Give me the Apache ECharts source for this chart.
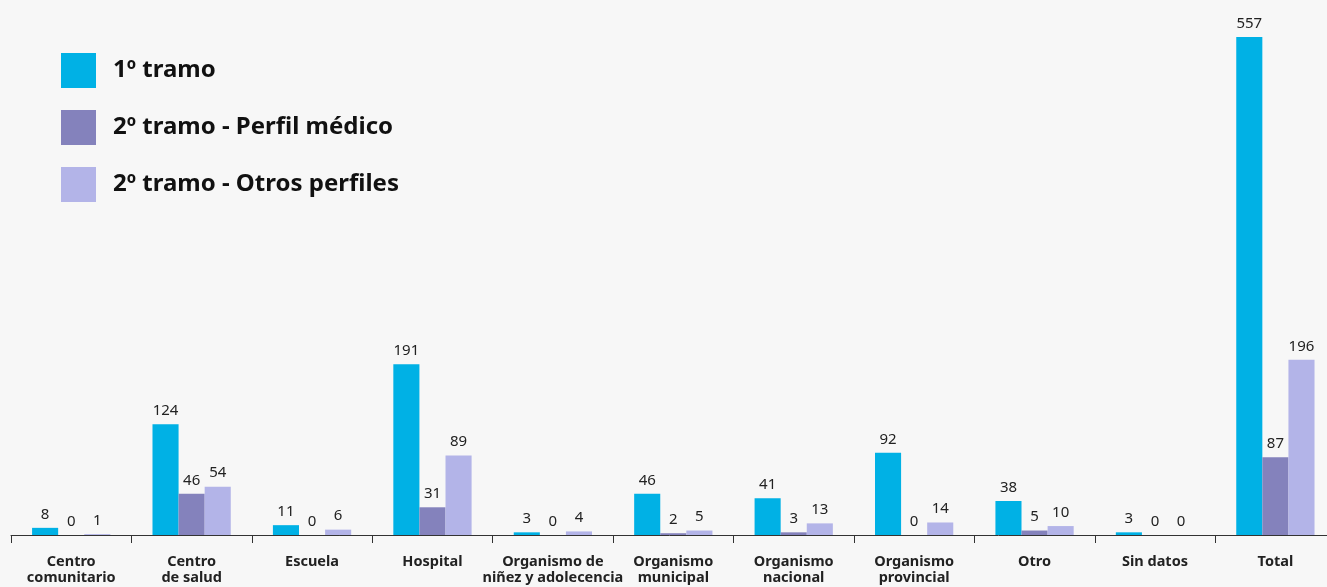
<!DOCTYPE html>
<html><head><meta charset="utf-8">
<script src="https://cdn.jsdelivr.net/npm/echarts@6/dist/echarts.min.js"></script>
<style>html,body{margin:0;padding:0;background:#f7f7f7}#c{width:1327px;height:587px}</style>
</head><body><div id="c"></div>
<script>
const categories = ["Centro\ncomunitario","Centro\nde salud","Escuela","Hospital","Organismo de\nniñez y adolecencia","Organismo\nmunicipal","Organismo\nnacional","Organismo\nprovincial","Otro","Sin datos","Total"];
const seriesNames = ["1º tramo","2º tramo - Perfil médico","2º tramo - Otros perfiles"];
const tramo1 = [8,124,11,191,3,46,41,92,38,3,557];
const tramo2Medico = [0,46,0,31,0,2,3,0,5,0,87];
const tramo2Otros = [1,54,6,89,4,5,13,14,10,0,196];
const colors = ["#00b1e5","#8482bc","#b3b4e8"];

const font = "'Noto Sans', sans-serif";
const chart = echarts.init(document.getElementById('c'), null, {renderer:'canvas'});
const mk = (name, data, color) => ({
  name, type:'bar', data, barGap:'0%', barCategoryGap:'35%',
  itemStyle:{color},
  label:{show:true, position:'top', distance:6, color:'#222', fontSize:15, fontFamily:font}
});
chart.setOption({
  backgroundColor:'#f7f7f7',
  animation:false,
  legend:{
    orient:'vertical', left:61, top:53, padding:0, itemWidth:35, itemHeight:35, itemGap:22,
    icon:'rect',
    textStyle:{fontSize:24, fontWeight:'bold', color:'#111', fontFamily:font, padding:[0,0,0,12]},
    data:seriesNames
  },
  grid:{left:11, right:-8.6, top:37, bottom:52, containLabel:false, outerBoundsMode:'none'},
  xAxis:{
    type:'category', data:categories,
    axisLine:{lineStyle:{color:'#333', width:1}},
    axisTick:{show:true, length:8, lineStyle:{color:'#333'}},
    axisLabel:{interval:0, margin:19, fontSize:14.5, fontWeight:'bold', color:'#222', lineHeight:16, fontFamily:font}
  },
  yAxis:{type:'value', min:0, max:557, show:false, splitLine:{show:false}},
  series:[mk(seriesNames[0],tramo1,colors[0]), mk(seriesNames[1],tramo2Medico,colors[1]), mk(seriesNames[2],tramo2Otros,colors[2])]
});
</script></body></html>
